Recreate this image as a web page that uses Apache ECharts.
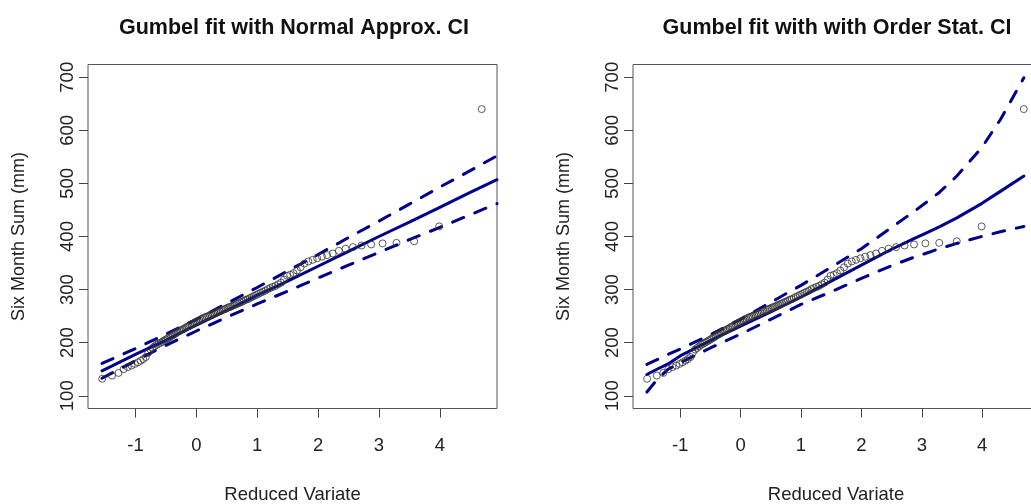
<!DOCTYPE html>
<html>
<head>
<meta charset="utf-8">
<script src="https://cdn.jsdelivr.net/npm/echarts@6/dist/echarts.min.js"></script>
<style>
  html, body { margin: 0; padding: 0; background: #fff; }
  #chart { width: 1031px; height: 504px; }
</style>
</head>
<body>
<div id="chart"></div>
<script>
// reduced variate (plotting position) of each sorted observation
var reducedVariate = [
    -1.546, -1.386, -1.279, -1.195, -1.126, -1.065, -1.010, -0.960, -0.914, -0.871,
    -0.830, -0.791, -0.754, -0.719, -0.685, -0.652, -0.620, -0.588, -0.558, -0.528,
    -0.499, -0.470, -0.442, -0.414, -0.387, -0.360, -0.333, -0.307, -0.281, -0.255,
    -0.229, -0.204, -0.178, -0.153, -0.128, -0.102, -0.077, -0.052, -0.027, -0.002,
    0.023, 0.048, 0.073, 0.098, 0.123, 0.148, 0.173, 0.198, 0.224, 0.249,
    0.275, 0.301, 0.327, 0.353, 0.380, 0.407, 0.434, 0.461, 0.488, 0.516,
    0.544, 0.572, 0.601, 0.630, 0.660, 0.690, 0.720, 0.751, 0.783, 0.815,
    0.847, 0.880, 0.914, 0.949, 0.984, 1.020, 1.057, 1.095, 1.134, 1.174,
    1.214, 1.257, 1.300, 1.345, 1.392, 1.440, 1.490, 1.542, 1.596, 1.653,
    1.713, 1.775, 1.841, 1.911, 1.985, 2.064, 2.149, 2.242, 2.341, 2.452,
    2.574, 2.714, 2.872, 3.060, 3.289, 3.579, 3.990, 4.688
];
// six month sums (mm), sorted
var sixMonthSum = [
    132, 138, 143, 150, 154, 157, 160, 163, 166, 169,
    173, 181, 187, 190, 193, 196, 198, 200, 202, 204,
    206, 208, 210, 212, 214, 216, 218, 220, 222, 223,
    225, 226, 228, 230, 231, 233, 235, 236, 238, 239,
    241, 242, 244, 245, 247, 248, 249, 250, 252, 253,
    254, 255, 256, 258, 259, 260, 262, 263, 264, 266,
    267, 268, 270, 271, 273, 274, 276, 277, 279, 281,
    282, 284, 286, 288, 290, 292, 294, 296, 298, 301,
    303, 305, 307, 310, 313, 319, 326, 328, 331, 336,
    342, 349, 353, 356, 359, 362, 365, 368, 373, 377,
    380, 383, 385, 387, 388, 391, 419, 640
];

// left panel: fitted gumbel line and normal approx. CI
var normalX     = [-1.55, -1, -0.5, 0, 0.5, 1, 1.5, 2, 2.5, 3, 3.5, 4, 4.5, 4.94];
var normalFit   = [147, 178, 205, 233, 261, 289, 316, 344, 372, 400, 427, 455, 483, 507];
var normalUpper = [161, 189, 216, 244, 274, 304, 335, 366, 398, 429, 461, 493, 524, 552];
var normalLower = [133, 166, 195, 222, 248, 273, 297, 322, 346, 370, 394, 417, 441, 462];

// right panel: order statistic median and CI
var orderX      = [-1.55, -1.4, -1.2, -1, -0.5, 0, 0.5, 1, 1.5, 2, 2.5, 2.87, 3.06, 3.29, 3.58, 3.99, 4.3, 4.69];
var orderMedian = [140, 149, 160, 175, 204, 231, 258, 286, 316, 346, 376, 396, 406, 418, 435, 462, 485, 514];
var orderUpper  = [159, 167, 178, 188, 215, 244, 276, 308, 342, 377, 417, 447, 463, 483, 514, 567, 620, 699];
var orderLower  = [107, 128, 150, 162, 190, 216, 244, 272, 296, 321, 345, 361, 368, 377, 387, 400, 409, 419];

var xTicks = [-1, 0, 1, 2, 3, 4];
var yTicks = [100, 200, 300, 400, 500, 600, 700];

var FONT = '"Liberation Sans", Arial, sans-serif';
var BLUE = '#00008b';

function pairs(xs, ys) {
    var out = [];
    for (var i = 0; i < xs.length; i++) {
        out.push([xs[i], ys[i]]);
    }
    return out;
}

function xAxisFor(idx) {
    return {
        type: 'value', gridIndex: idx, min: -1.78, max: 4.94,
        name: 'Reduced Variate', nameLocation: 'middle', nameGap: 77,
        nameTextStyle: { fontFamily: FONT, fontSize: 18.5, color: '#222' },
        axisLine: { show: false, onZero: false },
        axisTick: { show: true, length: 9, customValues: xTicks, lineStyle: { color: '#444' } },
        axisLabel: { customValues: xTicks, margin: 28, fontFamily: FONT, fontSize: 18.5, color: '#222' },
        splitLine: { show: false }
    };
}

function yAxisFor(idx) {
    return {
        type: 'value', gridIndex: idx, min: 76, max: 724,
        name: 'Six Month Sum (mm)', nameLocation: 'middle', nameGap: 60, nameRotate: 90,
        nameTextStyle: { fontFamily: FONT, fontSize: 18, color: '#222' },
        axisLine: { show: false, onZero: false },
        axisTick: { show: true, length: 9, customValues: yTicks, lineStyle: { color: '#444' } },
        axisLabel: { customValues: yTicks, rotate: 90, margin: 11, fontFamily: FONT, fontSize: 18.5, color: '#222' },
        splitLine: { show: false }
    };
}

function lineSeries(idx, xs, ys, dashed) {
    return {
        type: 'line', xAxisIndex: idx, yAxisIndex: idx,
        data: pairs(xs, ys),
        showSymbol: false, silent: true,
        lineStyle: { color: BLUE, width: 3, type: dashed ? [12, 12] : 'solid', cap: 'round' },
        z: 2
    };
}

function pointSeries(idx) {
    return {
        type: 'scatter', xAxisIndex: idx, yAxisIndex: idx,
        data: pairs(reducedVariate, sixMonthSum),
        symbol: 'circle', symbolSize: 7,
        itemStyle: { color: 'rgba(0,0,0,0)', borderColor: '#333', borderWidth: 1 },
        z: 3
    };
}

var titleStyle = { fontFamily: FONT, fontSize: 21.5, fontWeight: 'bold', color: '#111' };

var option = {
    animation: false,
    backgroundColor: '#fff',
    title: [
        { text: 'Gumbel fit with Normal Approx. CI', left: 294, top: 17, textAlign: 'center', padding: 0, textStyle: titleStyle },
        { text: 'Gumbel fit with with Order Stat. CI', left: 837, top: 17, textAlign: 'center', padding: 0, textStyle: titleStyle }
    ],
    grid: [
        { left: 88, top: 64.5, width: 409, height: 344, show: true, borderColor: '#555', borderWidth: 1,
          containLabel: false, outerBoundsMode: 'none' },
        { left: 633, top: 64.5, width: 406, height: 344, show: true, borderColor: '#555', borderWidth: 1,
          containLabel: false, outerBoundsMode: 'none' }
    ],
    xAxis: [xAxisFor(0), xAxisFor(1)],
    yAxis: [yAxisFor(0), yAxisFor(1)],
    series: [
        lineSeries(0, normalX, normalFit, false),
        lineSeries(0, normalX, normalUpper, true),
        lineSeries(0, normalX, normalLower, true),
        pointSeries(0),
        lineSeries(1, orderX, orderMedian, false),
        lineSeries(1, orderX, orderUpper, true),
        lineSeries(1, orderX, orderLower, true),
        pointSeries(1)
    ]
};

var chart = echarts.init(document.getElementById('chart'));
chart.setOption(option);
</script>
</body>
</html>
